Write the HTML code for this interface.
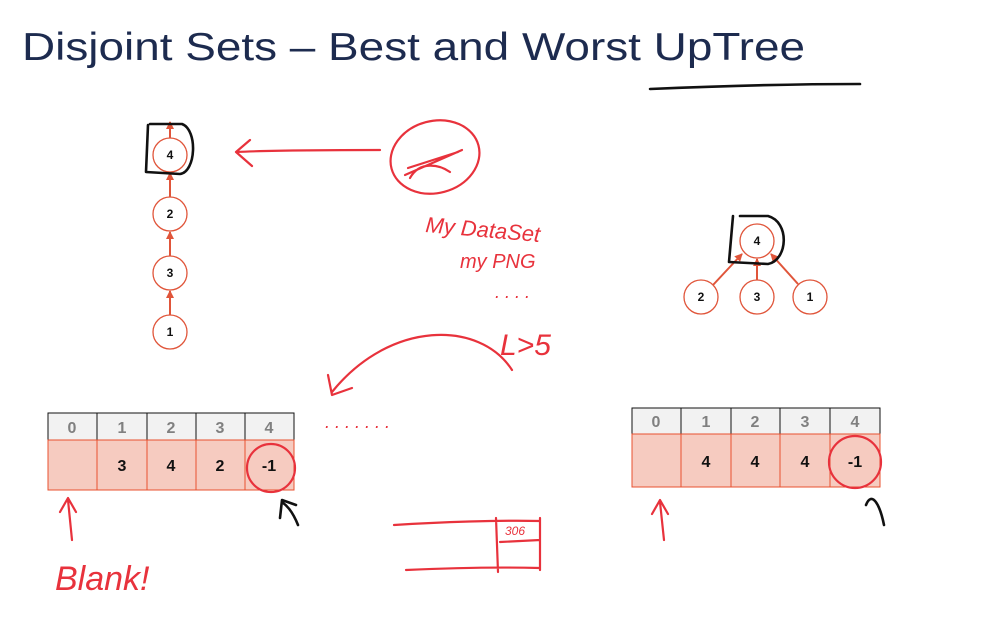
<!DOCTYPE html>
<html><head><meta charset="utf-8"><style>
html,body{margin:0;padding:0;background:#fff;width:984px;height:625px;overflow:hidden}
svg{display:block}
.hw{fill:none;stroke:#e8323c;stroke-width:2.2;stroke-linecap:round;stroke-linejoin:round}
.hk{fill:none;stroke:#111;stroke-width:2.6;stroke-linecap:round;stroke-linejoin:round}
.ht{font-family:"Liberation Sans",sans-serif;font-style:italic;fill:#e8323c}
.node circle{fill:#fff;stroke:#e0553a;stroke-width:1.3}
.node text{font-family:"Liberation Sans",sans-serif;font-weight:bold;font-size:12px;fill:#111;text-anchor:middle}
.arr{stroke:#e0553a;stroke-width:2}
.hd rect{fill:#f2f2f2;stroke:#111;stroke-width:1}
.hd text{font-family:"Liberation Sans",sans-serif;font-weight:bold;font-size:16px;fill:#808080;text-anchor:middle}
.dt rect{fill:#f6cbc0;stroke:#e8502f;stroke-width:1}
.dt text{font-family:"Liberation Sans",sans-serif;font-weight:bold;font-size:16px;fill:#111;text-anchor:middle}
</style></head><body>
<svg width="984" height="625" viewBox="0 0 984 625">
<defs><marker id="ah" markerUnits="userSpaceOnUse" markerWidth="8" markerHeight="8" refX="7" refY="4" orient="auto"><path d="M0,0L8,4L0,8z" fill="#e0553a"/></marker></defs>
<text x="22" y="60" font-family="Liberation Sans, sans-serif" font-size="39" fill="#1d2b4f" textLength="783" lengthAdjust="spacingAndGlyphs">Disjoint Sets – Best and Worst UpTree</text>
<path class="hk" d="M650,89 C720,86 800,84 860,84"/>

<g>
<line class="arr" x1="170" y1="138" x2="170" y2="122" marker-end="url(#ah)"/>
<line class="arr" x1="170" y1="197" x2="170" y2="173" marker-end="url(#ah)"/>
<line class="arr" x1="170" y1="256" x2="170" y2="232" marker-end="url(#ah)"/>
<line class="arr" x1="170" y1="315" x2="170" y2="291" marker-end="url(#ah)"/>
<g class="node"><circle cx="170" cy="155" r="17"/><text x="170" y="159">4</text></g>
<g class="node"><circle cx="170" cy="214" r="17"/><text x="170" y="218">2</text></g>
<g class="node"><circle cx="170" cy="273" r="17"/><text x="170" y="277">3</text></g>
<g class="node"><circle cx="170" cy="332" r="17"/><text x="170" y="336">1</text></g>
<path class="hk" d="M148,125 L146,172 L180,174 C196,172 198,130 182,124 L150,124"/>
</g>

<g>
<line class="arr" x1="713" y1="285" x2="742" y2="254" marker-end="url(#ah)"/>
<line class="arr" x1="757" y1="280" x2="757" y2="259" marker-end="url(#ah)"/>
<line class="arr" x1="798" y1="284" x2="771" y2="254" marker-end="url(#ah)"/>
<g class="node"><circle cx="757" cy="241" r="17"/><text x="757" y="245">4</text></g>
<g class="node"><circle cx="701" cy="297" r="17"/><text x="701" y="301">2</text></g>
<g class="node"><circle cx="757" cy="297" r="17"/><text x="757" y="301">3</text></g>
<g class="node"><circle cx="810" cy="297" r="17"/><text x="810" y="301">1</text></g>
<path class="hk" d="M733,216 L729,262 L768,264 C788,260 790,222 768,216 L740,216"/>
</g>

<g>
<g class="hd"><rect x="48" y="413" width="49" height="27"/><rect x="97" y="413" width="50" height="27"/><rect x="147" y="413" width="49" height="27"/><rect x="196" y="413" width="49" height="27"/><rect x="245" y="413" width="49" height="27"/>
<text x="72" y="433">0</text><text x="122" y="433">1</text><text x="171" y="433">2</text><text x="220" y="433">3</text><text x="269" y="433">4</text></g>
<g class="dt"><rect x="48" y="440" width="49" height="50"/><rect x="97" y="440" width="50" height="50"/><rect x="147" y="440" width="49" height="50"/><rect x="196" y="440" width="49" height="50"/><rect x="245" y="440" width="49" height="50"/>
<text x="122" y="471">3</text><text x="171" y="471">4</text><text x="220" y="471">2</text><text x="269" y="471">-1</text></g>
</g>
<g>
<g class="hd"><rect x="632" y="408" width="49" height="26"/><rect x="681" y="408" width="50" height="26"/><rect x="731" y="408" width="49" height="26"/><rect x="780" y="408" width="50" height="26"/><rect x="830" y="408" width="50" height="26"/>
<text x="656" y="427">0</text><text x="706" y="427">1</text><text x="755" y="427">2</text><text x="805" y="427">3</text><text x="855" y="427">4</text></g>
<g class="dt"><rect x="632" y="434" width="49" height="53"/><rect x="681" y="434" width="50" height="53"/><rect x="731" y="434" width="49" height="53"/><rect x="780" y="434" width="50" height="53"/><rect x="830" y="434" width="50" height="53"/>
<text x="706" y="467">4</text><text x="755" y="467">4</text><text x="805" y="467">4</text><text x="855" y="467">-1</text></g>
</g>

<g>
<ellipse class="hw" cx="271" cy="468" rx="24" ry="24"/>
<ellipse class="hw" cx="855" cy="462" rx="26" ry="26"/>
<ellipse class="hw" cx="435" cy="157" rx="45" ry="36" transform="rotate(-15 435 157)"/>
<path class="hw" d="M405,175 L462,150 M408,168 L458,152 M410,178 C420,160 440,165 450,172"/>
<path class="hw" d="M380,150 C330,150 280,150 236,152 M250,140 L236,152 L252,166"/>
<text class="ht" x="425" y="232" font-size="22" transform="rotate(5 425 232)">My DataSet</text>
<text class="ht" x="460" y="268" font-size="20">my PNG</text>
<text class="ht" x="495" y="298" font-size="18">. . . .</text>
<text class="ht" x="500" y="355" font-size="30">L&gt;5</text>
<path class="hw" d="M512,370 C480,320 390,320 332,392 M328,375 L332,395 L352,388"/>
<text class="ht" x="325" y="428" font-size="18">. . . . . . .</text>
<text class="ht" x="55" y="590" font-size="34">Blank!</text>
<path class="hw" d="M72,540 L68,500 M60,512 L68,498 L76,512"/>
<path class="hw" d="M664,540 L660,502 M652,514 L660,500 L668,514"/>
<path class="hk" d="M298,525 C292,510 286,505 282,502 M280,518 L282,500 L296,505"/>
<path class="hk" d="M884,525 C880,505 872,490 866,505"/>
<path class="hw" d="M394,525 C440,522 500,520 540,521 M406,570 C450,568 500,567 540,568 M496,518 L498,572 M540,518 L540,570 M500,542 L540,540"/>
<text class="ht" x="505" y="535" font-size="12">306</text>
</g>
</svg>
</body></html>
